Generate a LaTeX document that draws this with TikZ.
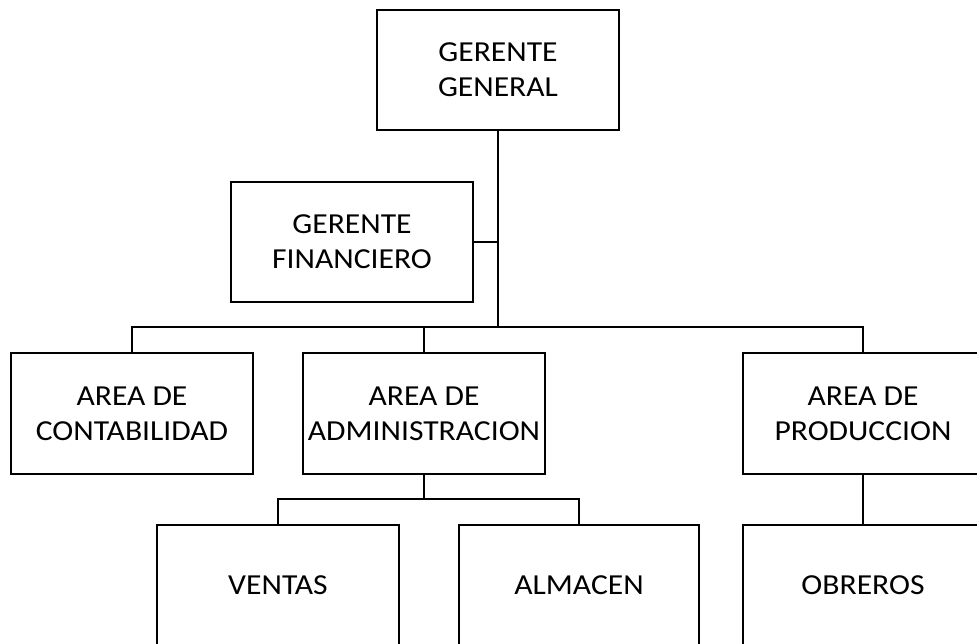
\documentclass[tikz,border=0pt]{standalone}
\usepackage{fontspec}
\setmainfont{Carlito}[FakeStretch=1.09]
\begin{document}
\begin{tikzpicture}[x=1pt,y=-1pt,
  box/.style={draw=black, line width=2.2pt, fill=white, inner sep=0pt,
    minimum width=242pt, minimum height=120pt, align=center,
    font=\fontsize{29}{35}\selectfont},
  conn/.style={draw=black, line width=2.2pt}]
\useasboundingbox (0,0) rectangle (977,644);
\clip (0,0) rectangle (977,644);
\fill[white] (0,0) rectangle (977,644);
\node[box] (gg) at (498,70) {GERENTE\\GENERAL};
\node[box] (gf) at (352,242) {GERENTE\\FINANCIERO};
\node[box, minimum height=121pt] (cont) at (132,413.5) {AREA DE\\CONTABILIDAD};
\node[box, minimum height=121pt] (adm) at (424,413.5) {AREA DE\\ADMINISTRACION};
\node[box, minimum height=121pt, minimum width=240pt] (prod) at (863,413.5) {AREA DE\\PRODUCCION};
\node[box] (ven) at (278,585) {VENTAS};
\node[box, minimum width=240pt] (alm) at (579,585) {ALMACEN};
\node[box, minimum width=240pt] (obr) at (863,585) {OBREROS};
\coordinate (bus) at (498,327);
\coordinate (sub) at (424,499);
\draw[conn] (gg.south) -- (bus);
\draw[conn] (gf.east) -- (gg.south |- gf.east);
\draw[conn] (cont.north) |- (bus) -| (prod.north);
\draw[conn] (adm.north) -- (adm.north |- bus);
\draw[conn] (adm.south) -- (sub);
\draw[conn] (ven.north) |- (sub) -| (alm.north);
\draw[conn] (prod.south) -- (obr.north);
\end{tikzpicture}
\end{document}
